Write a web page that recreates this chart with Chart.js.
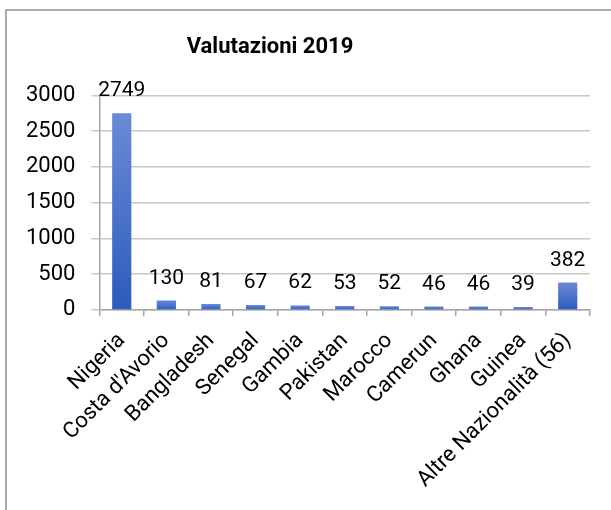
<!DOCTYPE html>
<html>
<head>
<meta charset="utf-8">
<script src="https://cdn.jsdelivr.net/npm/chart.js@4.4.0/dist/chart.umd.min.js"></script>
<style>
  html, body { margin: 0; padding: 0; background: #fff; overflow: hidden; }
  #frame { position: absolute; left: 5px; top: 9px; width: 700px; height: 600px; border: 2px solid #a9a9a9; }
  #wrap { position: absolute; left: 0; top: 0; width: 611px; height: 510px; }
</style>
</head>
<body>
<div id="frame"></div>
<div id="wrap"><canvas id="myChart"></canvas></div>
<script>
var categories = ["Nigeria", "Costa d'Avorio", "Bangladesh", "Senegal", "Gambia", "Pakistan",
    "Marocco", "Camerun", "Ghana", "Guinea", "Altre Nazionalità (56)"];
var valutazioni = [2749, 130, 81, 67, 62, 53, 52, 46, 46, 39, 382];
var yTicks = [0, 500, 1000, 1500, 2000, 2500, 3000];

var axisGray = "#a6a6a6";
var gridGray = "#c8c8c8";

// value labels above each bar, like Excel "outside end"
var valueLabels = {
    id: 'valueLabels',
    afterDatasetsDraw: function (chart) {
        var ctx = chart.ctx;
        var meta = chart.getDatasetMeta(0);
        ctx.save();
        ctx.font = "21px Roboto";
        ctx.fillStyle = "#000";
        ctx.textAlign = "center";
        ctx.textBaseline = "alphabetic";
        meta.data.forEach(function (bar, i) {
            ctx.fillText(chart.data.datasets[0].data[i], bar.x, bar.y - 17);
        });
        ctx.restore();
    }
};

// title is centred on the original chart box, not on the window
var shiftTitle = {
    id: 'shiftTitle',
    afterLayout: function (chart) {
        if (chart.titleBlock) {
            chart.titleBlock.left = 5;
            chart.titleBlock.right = 535;
        }
    }
};

// each bar gets its own gradient, lighter at the top
function barFill(c) {
    var chart = c.chart;
    var y = chart.scales.y;
    if (!chart.chartArea || !y) return "#3f6cc8";
    var top = y.getPixelForValue(c.raw);
    var bottom = y.getPixelForValue(0);
    if (!isFinite(top) || bottom - top < 1) return "#3f6cc8";
    var g = chart.ctx.createLinearGradient(0, top, 0, bottom);
    g.addColorStop(0, "#6a8bd6");
    g.addColorStop(1, "#2c5bbd");
    return g;
}

var ctx = document.getElementById('myChart').getContext('2d');
var chart = new Chart(ctx, {
    type: 'bar',
    data: {
        labels: categories,
        datasets: [{
            label: "Valutazioni 2019",
            data: valutazioni,
            backgroundColor: barFill,
            borderWidth: 0,
            categoryPercentage: 1,
            barPercentage: 0.43
        }]
    },
    options: {
        responsive: true,
        maintainAspectRatio: false,
        animation: false,
        layout: {
            padding: { left: 10, right: 21, top: 0, bottom: 5 }
        },
        plugins: {
            legend: { display: false },
            tooltip: { enabled: false },
            title: {
                display: true,
                text: "Valutazioni 2019",
                color: "#000",
                font: { family: "Roboto", size: 22, weight: "bold" },
                padding: { top: 34, bottom: 35 }
            }
        },
        scales: {
            y: {
                min: 0,
                max: 3000,
                afterBuildTicks: function (axis) {
                    axis.ticks = yTicks.map(function (v) { return { value: v }; });
                },
                border: { display: true, color: axisGray, width: 1.5 },
                grid: {
                    color: gridGray,
                    lineWidth: 1.5,
                    drawTicks: true,
                    tickLength: 8,
                    tickColor: gridGray
                },
                ticks: {
                    color: "#000",
                    padding: 16,
                    font: { family: "Roboto", size: 22 },
                    callback: function (v) { return String(v); }
                }
            },
            x: {
                border: { display: true, color: axisGray, width: 1.5 },
                grid: {
                    offset: true,
                    drawOnChartArea: false,
                    drawTicks: true,
                    tickLength: 6,
                    tickColor: axisGray,
                    lineWidth: 1.5
                },
                ticks: {
                    color: "#000",
                    minRotation: 45,
                    maxRotation: 45,
                    autoSkip: false,
                    padding: 12,
                    font: { family: "Roboto", size: 22 }
                },
                afterFit: function (axis) {
                    axis.paddingLeft = 0;
                    axis.paddingRight = 0;
                }
            }
        }
    },
    plugins: [valueLabels, shiftTitle]
});
</script>
</body>
</html>
